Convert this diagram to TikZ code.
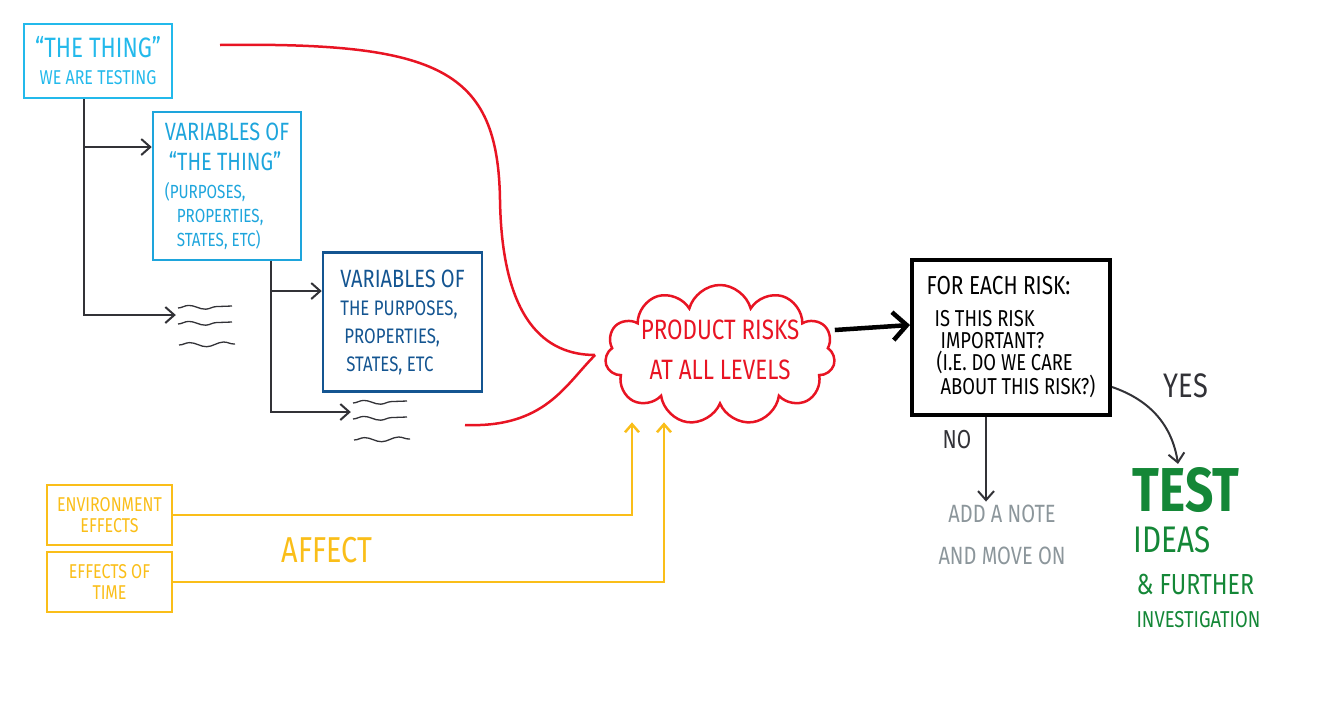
\documentclass[tikz,border=0pt]{standalone}
\usepackage{fontspec}
\setmainfont{Fira Sans}[FakeStretch=0.8]
\usepackage{tikz}
\usetikzlibrary{shapes.symbols, arrows.meta, positioning, calc, decorations.pathmorphing}
\definecolor{thingcyan}{RGB}{35,185,235}
\definecolor{varcyan}{RGB}{30,165,220}
\definecolor{vardark}{RGB}{20,85,145}
\definecolor{riskred}{RGB}{232,20,35}
\definecolor{affyellow}{RGB}{250,190,25}
\definecolor{testgreen}{RGB}{20,135,55}
\definecolor{notegray}{RGB}{140,150,155}
\definecolor{linegray}{RGB}{50,50,55}
\tikzset{
  thingbox/.style={rectangle, draw=thingcyan, text=thingcyan, line width=2.5pt,
    minimum width=148pt, minimum height=74pt, align=center, inner sep=2pt,
    font=\fontsize{20}{27}\selectfont},
  varbox/.style={rectangle, draw=varcyan, text=varcyan, line width=2.5pt,
    minimum width=148pt, minimum height=148pt, align=left, inner sep=2pt,
    font=\fontsize{19}{24}\selectfont},
  purpbox/.style={rectangle, draw=vardark, text=vardark, line width=2.5pt,
    minimum width=159pt, minimum height=139pt, align=left, inner sep=2pt,
    font=\fontsize{21}{28}\selectfont},
  effbox/.style={rectangle, draw=affyellow, text=affyellow, line width=2.5pt,
    minimum width=125pt, minimum height=60pt, align=center, inner sep=2pt,
    font=\fontsize{20}{21}\selectfont},
  checkbox/.style={rectangle, draw=black, line width=4pt,
    minimum width=198pt, minimum height=155pt, align=left, inner sep=2pt,
    font=\fontsize{23}{22}\selectfont},
  riskcloud/.style={cloud, cloud puffs=11, aspect=1.9, draw=riskred,
    line width=2.5pt, minimum width=230pt, minimum height=140pt},
  morebox/.style={minimum width=58pt, minimum height=44pt, inner sep=0pt},
  conn/.style={-{Straight Barb[length=9pt,width=16pt]}, line width=2pt, color=linegray},
  bigconn/.style={-{Straight Barb[length=14pt,width=28pt]}, line width=4.5pt, color=black},
  riskline/.style={line width=2.5pt, color=riskred},
  affline/.style={-{Straight Barb[length=8pt,width=14pt]}, line width=2.5pt, color=affyellow},
  wave/.style={decorate, decoration={snake, amplitude=2.2pt, segment length=34pt},
    line width=1.3pt, color=linegray}
}

\begin{document}
\begin{tikzpicture}[x=1pt, y=-1pt]
  \useasboundingbox (0,0) rectangle (1329,713);
  % Thing and its variables
  \node[thingbox] (thing) at (98,61)
    {\fontsize{28}{30}\selectfont ``THE THING''\\ WE ARE TESTING};
  \node[varbox] (vars) at (227,186)
    {\fontsize{25}{30}\selectfont VARIABLES OF\\[6pt]
     \fontsize{25}{30}\selectfont \hspace*{4pt}``THE THING''\\[4pt]
     (PURPOSES,\\ \hspace*{12pt}PROPERTIES,\\ \hspace*{12pt}STATES, ETC)};
  \node[purpbox] (purp) at (402.5,322)
    {\fontsize{25}{30}\selectfont VARIABLES OF\\ THE PURPOSES,\\
     \hspace*{4pt}PROPERTIES,\\ \hspace*{6pt}STATES, ETC};
  \node[morebox] (more1) at (205,326) {};
  \node[morebox] (more2) at (380,421) {};
  \foreach \m in {more1, more2} {
    \draw[wave] ([shift={(-27,-18)}]\m.center) -- ++(54,-2);
    \draw[wave] ([shift={(-27,-2)}]\m.center) -- ++(54,-2);
    \draw[wave] ([shift={(-26,19)}]\m.center) -- ++(56,-1);
  }
  \draw[conn] ([xshift=-14pt]thing.south) |- ([yshift=39pt]vars.west);
  \draw[conn] ([xshift=-14pt]thing.south) |- ([yshift=11pt]more1.west);
  \draw[conn] ([xshift=44pt]vars.south) |- ([yshift=31pt]purp.west);
  \draw[conn] ([xshift=44pt]vars.south) |- ([yshift=9pt]more2.west);

  % Product risks
  \node[riskcloud] (risks) at (720,355) {};
  \node[text=riskred, align=center, font=\fontsize{28}{40}\selectfont] (riskstext) at (720,350)
    {PRODUCT RISKS\\AT ALL LEVELS};
  \coordinate (thingout) at (220,45);
  \coordinate (moreout) at (465,425);
  \draw[riskline] (thingout) .. controls (440,42) and (498,70) .. (500,200)
    .. controls (502,320) and (545,355) .. ([xshift=-10pt]risks.west);
  \draw[riskline] (moreout) .. controls (545,428) and (565,385) .. ([xshift=-10pt]risks.west);

  % Effects
  \node[effbox] (env) at (109.5,515) {ENVIRONMENT\\EFFECTS};
  \node[effbox] (time) at (109.5,582) {EFFECTS OF\\TIME};
  \draw[affline] (env.east) -| ([xshift=-88pt,yshift=-16pt]risks.south);
  \draw[affline] (time.east) -| ([xshift=-56pt,yshift=-16pt]risks.south);
  \node[text=affyellow, font=\fontsize{36}{38}\selectfont] (affect) at (327,550) {AFFECT};

  % Decision
  \node[checkbox] (check) at (1011,337)
    {\fontsize{26}{28}\selectfont FOR EACH RISK:\\[10pt]
     \hspace*{8pt}IS THIS RISK\\ \hspace*{14pt}IMPORTANT?\\
     \hspace*{10pt}(I.E. DO WE CARE\\ \hspace*{14pt}ABOUT THIS RISK?)};
  \draw[bigconn] ([yshift=25pt]risks.east) -- ([yshift=12pt]check.west);
  \node[text=notegray, align=center, font=\fontsize{25}{38}\selectfont] (note) at (1002,535)
    {ADD A NOTE\\[4pt]AND MOVE ON};
  \node[text=testgreen, font=\fontsize{62}{64}\selectfont\bfseries] (test) at (1186,490) {TEST};
  \node[text=testgreen, font=\fontsize{37}{40}\selectfont, anchor=west] (ideas) at (1130,540) {IDEAS};
  \node[text=testgreen, font=\fontsize{29}{32}\selectfont, anchor=west] (further) at (1133,584) {\&~FURTHER};
  \node[text=testgreen, font=\fontsize{23}{26}\selectfont, anchor=west] (invest) at (1133,620) {INVESTIGATION};
  \draw[conn] ([xshift=-25pt]check.south) -- ([xshift=-25pt]check.south |- note.north);
  \draw[conn] ([yshift=-50pt]check.east) .. controls (1150,400) and (1172,425) .. ([xshift=-8pt]test.north);
  \node[font=\fontsize{26}{28}\selectfont, text=linegray] (no) at (957,440) {NO};
  \node[font=\fontsize{34}{36}\selectfont, text=linegray] (yes) at (1186,386) {YES};
\end{tikzpicture}
\end{document}
